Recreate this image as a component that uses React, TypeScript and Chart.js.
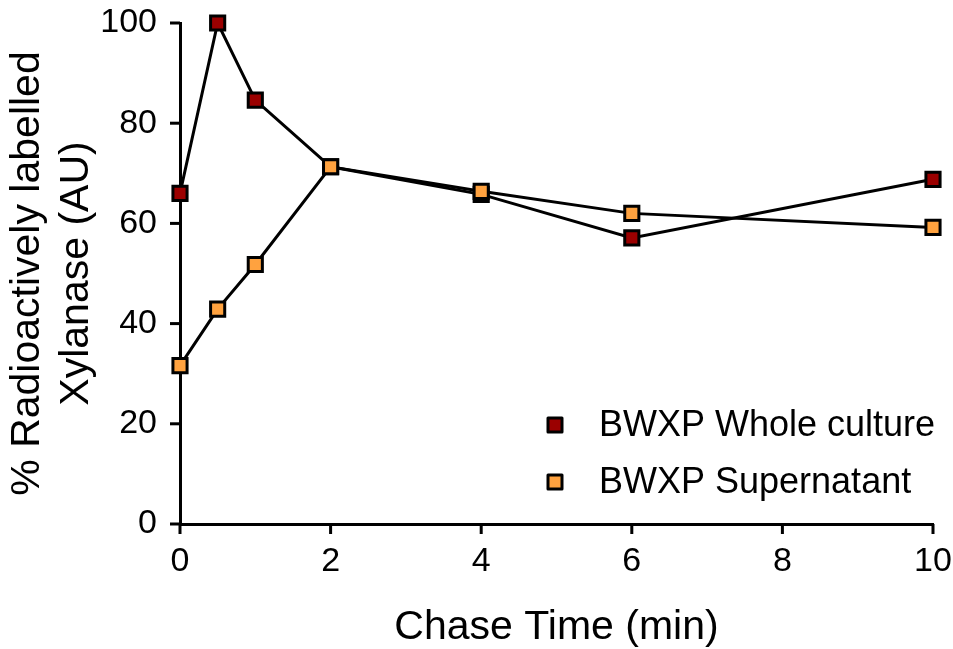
import React, { useEffect, useRef } from "react";
import { Chart, registerables } from "chart.js";

Chart.register(...registerables);

// Chase time points (min)
const chaseTimes = [0, 0.5, 1, 2, 4, 6, 10];
// % radioactively labelled xylanase (AU)
const wholeCulture = [66, 100, 84.6, 71.3, 65.8, 57.1, 68.8];
const supernatant = [31.6, 42.9, 51.8, 71.3, 66.4, 62.0, 59.2];

const seriesNames = ["BWXP Whole culture", "BWXP Supernatant"];
const seriesColors = ["#9b0000", "#ffa23f"];

const xTicks = [0, 2, 4, 6, 8, 10];
const yTicks = [0, 20, 40, 60, 80, 100];

const FONT = "'Liberation Sans', Arial, Helvetica, sans-serif";
const TICK_LEN = 10;
const TICK_W = 3;

// Outward tick marks on both axes, placed through the scales
const tickMarksPlugin = {
  id: "tickMarks",
  afterDraw(chart: Chart) {
    const ctx = chart.ctx;
    const xs: any = chart.scales["x"];
    const ys: any = chart.scales["y"];
    const axisY = ys.getPixelForValue(0);
    const axisX = xs.getPixelForValue(0);
    ctx.save();
    ctx.fillStyle = "#000000";
    for (const v of xTicks) {
      const px = xs.getPixelForValue(v);
      ctx.fillRect(px - TICK_W / 2, axisY, TICK_W, TICK_LEN);
    }
    for (const v of yTicks) {
      const py = ys.getPixelForValue(v);
      ctx.fillRect(axisX - TICK_LEN, py - TICK_W / 2, TICK_LEN, TICK_W);
    }
    ctx.restore();
  },
};

const legendPlugin = {
  id: "cornerLegend",
  afterDraw(chart: Chart) {
    const { ctx, chartArea } = chart;
    ctx.save();
    seriesNames.forEach((name, i) => {
      const cy = chartArea.bottom - 99 + i * 57;
      const cx = chartArea.left + 375;
      ctx.fillStyle = seriesColors[i];
      ctx.strokeStyle = "#000";
      ctx.lineWidth = 3;
      ctx.lineJoin = "round";
      ctx.beginPath();
      ctx.rect(cx - 7, cy - 7, 14, 14);
      ctx.fill();
      ctx.stroke();
      ctx.fillStyle = "#000";
      ctx.font = `36px ${FONT}`;
      ctx.textBaseline = "middle";
      ctx.textAlign = "left";
      ctx.fillText(name, cx + 44, cy + 1);
    });
    ctx.restore();
  },
};

function toPoints(ys: number[]) {
  return chaseTimes.map((x, i) => ({ x, y: ys[i] }));
}

export default function App() {
  const canvasRef = useRef<HTMLCanvasElement | null>(null);

  useEffect(() => {
    if (!canvasRef.current) return;
    const common = {
      borderColor: "#000",
      borderWidth: 3,
      pointStyle: "rect",
      pointRadius: 10,
      pointBorderWidth: 3,
      pointBorderColor: "#000",
      clip: false as any,
    };
    const chart = new Chart(canvasRef.current, {
      type: "line",
      data: {
        datasets: [
          {
            ...common,
            label: seriesNames[0],
            data: toPoints(wholeCulture),
            pointBackgroundColor: seriesColors[0],
            order: 1,
          },
          {
            ...common,
            label: seriesNames[1],
            data: toPoints(supernatant),
            pointBackgroundColor: seriesColors[1],
            order: 0,
          },
        ] as any,
      },
      options: {
        animation: false,
        responsive: false,
        layout: { padding: { left: 0, right: 20, top: 23, bottom: 0 } },
        plugins: {
          legend: { display: false },
          tooltip: { enabled: false },
        },
        scales: {
          x: {
            type: "linear",
            min: 0,
            max: 10,
            afterBuildTicks: (scale: any) => {
              scale.ticks = xTicks.map((v) => ({ value: v }));
            },
            afterFit: (scale: any) => {
              scale.height = 125;
              scale.paddingLeft = 0;
              scale.paddingRight = 0;
            },
            border: { color: "#000", width: 3 },
            grid: { display: false },
            ticks: {
              color: "#000",
              font: { family: FONT, size: 34 },
              padding: 9,
            },
            title: {
              display: true,
              text: "Chase Time (min)",
              color: "#000",
              font: { family: FONT, size: 41 },
              padding: { top: 0, bottom: -3 },
            },
          },
          y: {
            type: "linear",
            min: 0,
            max: 100,
            afterBuildTicks: (scale: any) => {
              scale.ticks = yTicks.map((v) => ({ value: v }));
            },
            afterFit: (scale: any) => {
              scale.width = 180;
              scale.paddingTop = 0;
              scale.paddingBottom = 0;
            },
            border: { color: "#000", width: 3 },
            grid: { display: false },
            ticks: {
              color: "#000",
              font: { family: FONT, size: 34 },
              padding: 15,
            },
            title: {
              display: true,
              text: ["% Radioactively labelled", "Xylanase (AU)"],
              color: "#000",
              font: { family: FONT, size: 41, lineHeight: 1.2 },
              padding: { top: 3, bottom: 0 },
            },
          },
        },
      },
      plugins: [tickMarksPlugin, legendPlugin],
    });
    return () => chart.destroy();
  }, []);

  return (
    <div style={{ position: "fixed", left: 0, top: 0, width: 953, height: 649, background: "#fff" }}>
      <canvas ref={canvasRef} width={953} height={649} style={{ display: "block" }} />
    </div>
  );
}
